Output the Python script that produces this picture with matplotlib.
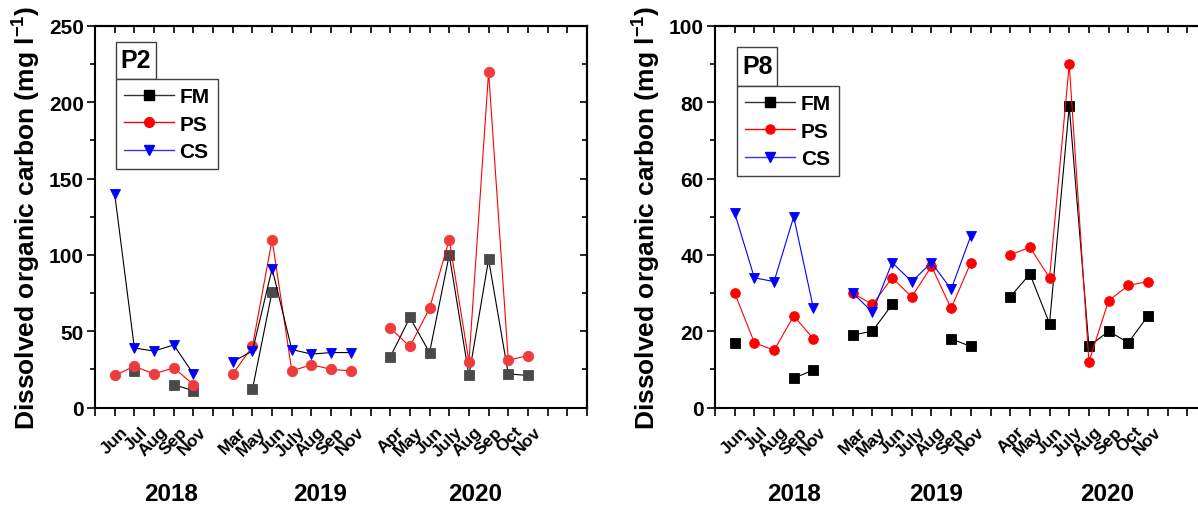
import numpy as np
import matplotlib
matplotlib.use("Agg")
import matplotlib.pyplot as plt
import matplotlib.transforms as mtransforms
from matplotlib.lines import Line2D
from matplotlib.patches import Rectangle
from matplotlib.ticker import MultipleLocator, FixedLocator, NullFormatter

plt.rcParams["font.family"] = ["Liberation Sans", "DejaVu Sans"]
plt.rcParams["font.weight"] = "bold"
plt.rcParams["mathtext.fontset"] = "custom"
plt.rcParams["mathtext.rm"] = "Liberation Sans:bold"
plt.rcParams["mathtext.bf"] = "Liberation Sans:bold"
plt.rcParams["mathtext.it"] = "Liberation Sans:bold"

nan = np.nan

# Sampling campaigns
years = ["2018", "2019", "2020"]
months_2018 = ["Jun", "Jul", "Aug", "Sep", "Nov"]
months_2019 = ["Mar", "May", "Jun", "July", "Aug", "Sep", "Nov"]
months_2020 = ["Apr", "May", "Jun", "July", "Aug", "Sep", "Oct", "Nov"]
series_names = ["FM", "PS", "CS"]

# DOC (mg/l) at site P2
p2_fm_2018 = [nan, 24, nan, 15, 11]
p2_ps_2018 = [21, 27, 22, 26, 15]
p2_cs_2018 = [140, 39, 37, 41, 22]
p2_fm_2019 = [nan, 12, 76, nan, nan, nan, nan]
p2_ps_2019 = [22, 40, 110, 24, 28, 25, 24]
p2_cs_2019 = [30, 37, 91, 38, 35, 36, 36]
p2_fm_2020 = [33, 59, 36, 100, 21, 97, 22, 21]
p2_ps_2020 = [52, 40, 65, 110, 30, 220, 31, 34]
p2_cs_2020 = [nan, nan, nan, nan, nan, nan, nan, nan]

# DOC (mg/l) at site P8
p8_fm_2018 = [17, nan, nan, 7.7, 9.8]
p8_ps_2018 = [30, 17, 15, 24, 18]
p8_cs_2018 = [51, 34, 33, 50, 26]
p8_fm_2019 = [19, 20, 27, nan, nan, 18, 16]
p8_ps_2019 = [30, 27, 34, 29, 37, 26, 38]
p8_cs_2019 = [30, 25, 38, 33, 38, 31, 45]
p8_fm_2020 = [29, 35, 22, 79, 16, 20, 17, 24]
p8_ps_2020 = [40, 42, 34, 90, 12, 28, 32, 33]
p8_cs_2020 = [nan, nan, nan, nan, nan, nan, nan, nan]

month_groups = [months_2018, months_2019, months_2020]

# x positions: one empty slot between consecutive years
starts = []
pos = 1
for grp in month_groups:
    starts.append(pos)
    pos += len(grp) + 1
xpos_groups = [np.arange(s, s + len(g)) for s, g in zip(starts, month_groups)]
tick_pos = np.concatenate(xpos_groups)
tick_lab = sum(month_groups, [])

W, H = 1198, 506
fig = plt.figure(figsize=(W / 100, H / 100), dpi=100)


def px_axes(x0, y_top, w, h):
    return fig.add_axes([x0 / W, 1 - (y_top + h) / H, w / W, h / H])


ax1 = px_axes(95, 27, 492, 381.5)
ax2 = px_axes(715, 27, 492, 381.5)

p2_data = {
    "FM": [p2_fm_2018, p2_fm_2019, p2_fm_2020],
    "PS": [p2_ps_2018, p2_ps_2019, p2_ps_2020],
    "CS": [p2_cs_2018, p2_cs_2019, p2_cs_2020],
}
p8_data = {
    "FM": [p8_fm_2018, p8_fm_2019, p8_fm_2020],
    "PS": [p8_ps_2018, p8_ps_2019, p8_ps_2020],
    "CS": [p8_cs_2018, p8_cs_2019, p8_cs_2020],
}

markers = {"FM": "s", "PS": "o", "CS": "v"}

p2_style = {
    "FM": dict(color="black", mfc="#4a4a4a", mec="#4a4a4a"),
    "PS": dict(color="#ff0000", mfc="#ee3c3c", mec="#ee3c3c"),
    "CS": dict(color="black", mfc="#0000ff", mec="#0000ff"),
}
p8_style = {
    "FM": dict(color="black", mfc="black", mec="black"),
    "PS": dict(color="#ff0000", mfc="#ff0000", mec="#ff0000"),
    "CS": dict(color="#0000ff", mfc="#0000ff", mec="#0000ff"),
}
legend_style = {
    "FM": dict(color="#333333", mfc="black", mec="black"),
    "PS": dict(color="#ff0000", mfc="#ff0000", mec="#ff0000"),
    "CS": dict(color="#3333ff", mfc="#0000ff", mec="#0000ff"),
}


def draw_panel(ax, data, style, ylim, ymajor, yminor, msize, site,
               box_frac, year_x):
    for name in series_names:
        for xs, vals in zip(xpos_groups, data[name]):
            ax.plot(xs, vals, marker=markers[name], ms=msize, lw=0.8,
                    mew=0.6, **style[name])

    ax.set_xlim(0, 25)
    ax.set_ylim(*ylim)
    ax.xaxis.set_major_locator(FixedLocator(np.arange(0, 26)))
    labels = [""] * 26
    for p, lab in zip(tick_pos, tick_lab):
        labels[p] = lab
    ax.set_xticklabels(labels)
    ax.yaxis.set_major_locator(MultipleLocator(ymajor))
    ax.yaxis.set_minor_locator(MultipleLocator(yminor))

    for s in ax.spines.values():
        s.set_linewidth(1.5)
    ax.tick_params(axis="both", which="major", direction="out", length=6,
                   width=1.2)
    ax.tick_params(axis="y", which="minor", direction="out", length=3.5,
                   width=1.2)
    ax.tick_params(axis="y", labelsize=15, pad=2)
    ax.tick_params(axis="x", labelsize=12.5, pad=5.5)

    off = mtransforms.ScaledTranslation(4 / 72, 0, fig.dpi_scale_trans)
    for lab in ax.get_xticklabels():
        lab.set_rotation(45)
        lab.set_ha("right")
        lab.set_va("top")
        lab.set_rotation_mode("anchor")
        lab.set_fontweight("bold")
        lab.set_transform(lab.get_transform() + off)

    # inward ticks along the top and right frame
    top = ax.secondary_xaxis("top")
    top.xaxis.set_major_locator(FixedLocator(np.arange(0, 26)))
    top.xaxis.set_major_formatter(NullFormatter())
    top.tick_params(direction="in", length=5, width=1.2)
    right = ax.secondary_yaxis("right")
    right.yaxis.set_major_locator(MultipleLocator(ymajor))
    right.yaxis.set_minor_locator(MultipleLocator(yminor))
    right.yaxis.set_major_formatter(NullFormatter())
    right.tick_params(which="major", direction="in", length=5, width=1.2)
    right.tick_params(which="minor", direction="in", length=3.5, width=1.2)
    for s in list(top.spines.values()) + list(right.spines.values()):
        s.set_linewidth(1.5)

    ax.set_ylabel(r"Dissolved organic carbon (mg l$^{\mathbf{-1}}$)",
                  fontsize=19, fontweight="bold")
    ax.yaxis.set_label_coords(-0.105, 0.5)

    # year captions under each group of months
    trans = mtransforms.blended_transform_factory(ax.transData, ax.transAxes)
    for yr, xc in zip(years, year_x):
        ax.text(xc, -0.225, yr, transform=trans, ha="center", va="center",
                fontsize=17.5, fontweight="bold")

    # site label box and legend
    bx0, bx1, by0, by1 = box_frac
    ax.add_patch(Rectangle((bx0, by0), bx1 - bx0, by1 - by0,
                           transform=ax.transAxes, fc="white", ec="#404040",
                           lw=1.0, zorder=5))
    ax.text((bx0 + bx1) / 2, (by0 + by1) / 2, site, transform=ax.transAxes,
            ha="center", va="center", fontsize=18, fontweight="bold",
            zorder=6)

    handles = [Line2D([], [], marker=markers[n], ms=msize - 0.5, lw=1.0,
                      **legend_style[n]) for n in series_names]
    leg = ax.legend(handles, series_names, loc="upper left",
                    bbox_to_anchor=(bx0, by0), bbox_transform=ax.transAxes,
                    borderaxespad=0, frameon=True, fancybox=False,
                    edgecolor="#404040", framealpha=1,
                    handlelength=2.4, handletextpad=0.25, borderpad=0.4,
                    labelspacing=0.4, prop={"weight": "bold", "size": 15})
    leg.get_frame().set_linewidth(1.0)
    leg.set_zorder(5)


draw_panel(ax1, p2_data, p2_style, (0, 250), 50, 25, 7.5, "P2",
           (0.0427, 0.124, 0.861, 0.959), (3.84, 11.46, 19.3))
draw_panel(ax2, p8_data, p8_style, (0, 100), 20, 10, 7.0, "P8",
           (0.0449, 0.1265, 0.843, 0.945), (4.0, 11.25, 19.95))

fig.savefig("out.png", dpi=100)
